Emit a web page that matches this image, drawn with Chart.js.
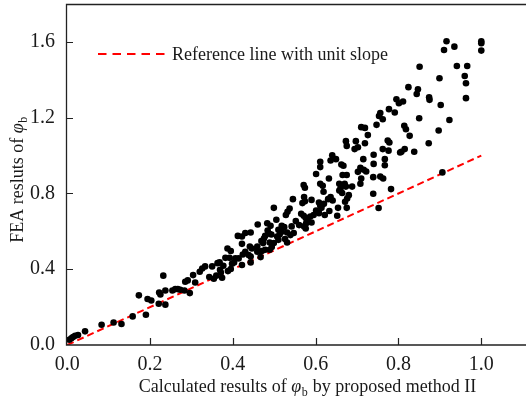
<!DOCTYPE html>
<html>
<head>
<meta charset="utf-8">
<script src="https://cdn.jsdelivr.net/npm/chart.js@4.4.1/dist/chart.umd.min.js"></script>
<style>
html,body{margin:0;padding:0;background:#fff;overflow:hidden;}
#wrap{width:526px;height:400px;position:relative;}
</style>
</head>
<body>
<div id="wrap"><canvas id="c"></canvas></div>
<script>
// ---- data ----
const xTickValues = [0.0, 0.2, 0.4, 0.6, 0.8, 1.0];
const yTickValues = [0.0, 0.4, 0.8, 1.2, 1.6];
const xTitleParts = ["Calculated results of ", "φ", "b", " by proposed method II"];
const yTitleParts = ["FEA resluts of ", "φ", "b", ""];
const legendLabel = "Reference line with unit slope";

const refLineX = [0, 1];
const refLineY = [0, 1];

// calculated (proposed method II)
const calcX = [
 0.005,0.010,0.014,0.019,0.026,0.043,0.083,0.112,0.131,0.158,0.173,0.190,0.194,0.203,0.221,0.232,0.222,0.225,0.237,0.237,
 0.254,0.261,0.267,0.273,0.283,0.296,0.285,0.291,0.304,0.309,
 0.320,0.326,0.333,0.343,0.350,0.354,0.360,0.363,0.368,0.369,0.371,0.374,0.377,0.388,0.395,0.398,0.403,0.422,0.443,
 0.851,0.941,0.966,0.899,0.960,0.963,0.963,0.824,0.847,0.844,0.874,0.875,0.902,0.795,0.801,0.811,0.777,0.791,0.756,0.753,
 0.762,0.747,0.850,0.923,0.814,0.818,0.827,0.897,0.710,0.719,0.726,0.719,0.774,0.778,0.776,0.804,0.807,0.815,0.838,0.873,
 0.673,0.675,0.697,0.694,0.702,0.762,0.740,0.740,0.767,0.767,0.715,0.640,0.649,0.636,0.611,0.611,0.662,0.667,0.702,0.708,
 0.716,0.722,0.601,0.632,0.665,0.675,0.739,0.756,0.763,0.710,0.708,0.688,0.670,0.673,0.657,0.660,0.782,0.611,0.617,0.571,
 0.574,0.619,0.657,0.664,0.680,0.676,0.671,0.739,0.752,0.641,0.636,0.630,0.654,0.675,0.652,0.545,0.572,0.574,0.590,0.608,
 0.611,0.620,0.614,0.601,0.608,0.622,0.633,0.499,0.528,0.532,0.537,0.568,0.565,0.571,0.576,0.587,0.595,0.582,0.590,0.552,
 0.560,0.572,0.577,0.542,0.505,0.460,0.483,0.491,0.518,0.524,0.510,0.513,0.518,0.531,0.539,0.547,0.576,0.526,0.531,0.484,
 0.488,0.493,0.507,0.510,0.478,0.475,0.469,0.473,0.489,0.499,0.443,0.430,0.422,0.412,0.422,0.441,0.446,0.459,0.459,0.470,
 0.478,0.489,0.494,0.430,0.438,0.443,0.387,0.395,0.424,0.392,0.382,0.406,0.414,0.467,
 0.910,0.916,0.935,1.000,1.000,1.000,0.906
];
// FEA results
const feaY = [
 0.028,0.035,0.042,0.049,0.053,0.072,0.107,0.119,0.111,0.151,0.262,0.160,0.243,0.235,0.218,0.366,0.277,0.267,0.288,0.213,
 0.288,0.295,0.295,0.292,0.288,0.274,0.334,0.341,0.369,0.330,
 0.387,0.404,0.415,0.359,0.415,0.350,0.366,0.432,0.436,0.397,0.383,0.355,0.418,0.390,0.401,0.429,0.436,0.422,0.436,
 1.469,1.473,1.473,1.408,1.420,1.382,1.303,1.361,1.350,1.325,1.308,1.294,1.267,1.297,1.276,1.285,1.245,1.227,1.224,1.209,
 1.192,1.162,1.197,1.188,1.157,1.139,1.104,1.132,1.150,1.146,1.108,1.065,1.079,1.069,1.026,1.016,1.020,1.034,1.020,1.065,
 1.076,1.051,1.076,1.034,1.044,1.034,1.004,0.956,0.981,0.949,0.981,1.002,0.981,0.974,0.967,0.939,0.953,0.946,0.914,0.935,
 0.925,0.916,0.903,0.879,0.897,0.897,0.886,0.889,0.879,0.879,0.851,0.836,0.851,0.836,0.851,0.826,0.823,0.851,0.840,0.844,
 0.830,0.809,0.815,0.802,0.791,0.773,0.756,0.798,0.723,0.763,0.781,0.770,0.724,0.724,0.682,0.770,0.781,0.759,0.766,0.752,
 0.735,0.745,0.724,0.710,0.696,0.686,0.707,0.724,0.686,0.703,0.720,0.749,0.693,0.682,0.671,0.678,0.686,0.650,0.647,0.654,
 0.633,0.626,0.643,0.626,0.661,0.636,0.643,0.629,0.629,0.622,0.608,0.583,0.598,0.594,0.580,0.591,0.615,0.559,0.541,0.604,
 0.587,0.583,0.573,0.555,0.576,0.562,0.549,0.538,0.541,0.538,0.594,0.591,0.573,0.576,0.534,0.520,0.509,0.520,0.492,0.496,
 0.503,0.503,0.517,0.492,0.475,0.467,0.509,0.496,0.478,0.460,0.460,0.457,0.457,0.464,
 1.557,1.603,1.575,1.603,1.593,1.554,0.911
];

const FONT = '"Liberation Serif", "Times New Roman", "DejaVu Serif", serif';
const INK = '#1a1a1a';

const scatterData = calcX.map((v, i) => ({x: v, y: feaY[i]}));
const refData = refLineX.map((v, i) => ({x: v, y: refLineY[i]}));

function drawParts(ctx, parts, size) {
  const fN = size + 'px ' + FONT, fI = 'italic ' + size + 'px ' + FONT, fS = Math.round(size * 0.68) + 'px ' + FONT;
  ctx.font = fN; const w0 = ctx.measureText(parts[0]).width;
  ctx.font = fI; const w1 = ctx.measureText(parts[1]).width;
  ctx.font = fS; const w2 = ctx.measureText(parts[2]).width;
  ctx.font = fN; const w3 = ctx.measureText(parts[3]).width;
  return {
    width: w0 + w1 + w2 + w3,
    draw(x, y) {
      ctx.textAlign = 'left'; ctx.textBaseline = 'alphabetic';
      ctx.font = fN; ctx.fillText(parts[0], x, y);
      ctx.font = fI; ctx.fillText(parts[1], x + w0, y);
      ctx.font = fS; ctx.fillText(parts[2], x + w0 + w1 + 0.5, y + size * 0.2);
      ctx.font = fN; ctx.fillText(parts[3], x + w0 + w1 + w2 + 1, y);
    }
  };
}

const decorPlugin = {
  id: 'decor',
  afterDraw(chart) {
    const ctx = chart.ctx;
    const {left, top, bottom} = chart.chartArea;
    const edge = chart.width;
    const xs = chart.scales.x, ys = chart.scales.y;
    ctx.save();
    ctx.strokeStyle = '#222'; ctx.lineWidth = 1.3; ctx.setLineDash([]);
    ctx.beginPath();
    ctx.moveTo(edge, top + 0.5); ctx.lineTo(left + 0.5, top + 0.5);
    ctx.lineTo(left + 0.5, bottom); ctx.lineTo(edge, bottom);
    ctx.stroke();
    ctx.lineWidth = 1.2;
    ctx.beginPath();
    xTickValues.forEach(v => {
      if (v === 0) return;
      const px = Math.round(xs.getPixelForValue(v)) + 0.5;
      ctx.moveTo(px, bottom); ctx.lineTo(px, bottom - 7);
    });
    yTickValues.forEach(v => {
      if (v === 0) return;
      const py = Math.round(ys.getPixelForValue(v)) + 0.5;
      ctx.moveTo(left, py); ctx.lineTo(left + 7, py);
    });
    ctx.stroke();
    // legend
    ctx.strokeStyle = '#ff0000'; ctx.lineWidth = 2; ctx.setLineDash([8.5, 6]);
    ctx.beginPath(); ctx.moveTo(98, 54); ctx.lineTo(166, 54); ctx.stroke();
    ctx.setLineDash([]);
    ctx.fillStyle = INK; ctx.font = '18px ' + FONT; ctx.textAlign = 'left'; ctx.textBaseline = 'alphabetic';
    ctx.fillText(legendLabel, 172, 59.5);
    const xt = drawParts(ctx, xTitleParts, 18);
    xt.draw(307 - xt.width / 2, 392);
    ctx.translate(23, 180); ctx.rotate(-Math.PI / 2);
    const yt = drawParts(ctx, yTitleParts, 18);
    yt.draw(-yt.width / 2, 0);
    ctx.restore();
  }
};

new Chart(document.getElementById('c'), {
  type: 'scatter',
  data: {
    datasets: [
      {
        label: 'FEA',
        data: scatterData,
        backgroundColor: '#000',
        borderWidth: 0,
        pointRadius: 3.3,
        pointHoverRadius: 3.3
      },
      {
        type: 'line',
        label: legendLabel,
        data: refData,
        borderColor: '#ff0000',
        borderWidth: 2,
        borderDash: [7, 4],
        pointRadius: 0,
        fill: false,
        showLine: true
      }
    ]
  },
  options: {
    responsive: true,
    maintainAspectRatio: false,
    animation: false,
    devicePixelRatio: 1,
    layout: {padding: {top: 4, right: 0, left: 0, bottom: 0}},
    plugins: {legend: {display: false}, tooltip: {enabled: false}, title: {display: false}},
    scales: {
      x: {
        type: 'linear', min: -0.003, max: 1.1,
        afterBuildTicks(s) { s.ticks = xTickValues.map(v => ({value: v})); },
        afterFit(s) { s.height = 55; s.paddingLeft = 0; s.paddingRight = 0; },
        grid: {display: false, drawTicks: false},
        border: {display: false},
        ticks: {
          padding: 8, color: INK, font: {family: FONT, size: 20},
          maxRotation: 0, autoSkip: false,
          callback: v => Number(v).toFixed(1)
        }
      },
      y: {
        type: 'linear', min: 0, max: 1.8,
        afterBuildTicks(s) { s.ticks = yTickValues.map(v => ({value: v})); },
        afterFit(s) { s.width = 66; s.paddingTop = 0; s.paddingBottom = 0; },
        grid: {display: false, drawTicks: false},
        border: {display: false},
        ticks: {
          padding: 11, color: INK, font: {family: FONT, size: 20},
          autoSkip: false,
          callback: v => Number(v).toFixed(1)
        }
      }
    }
  },
  plugins: [decorPlugin]
});
</script>
</body>
</html>
